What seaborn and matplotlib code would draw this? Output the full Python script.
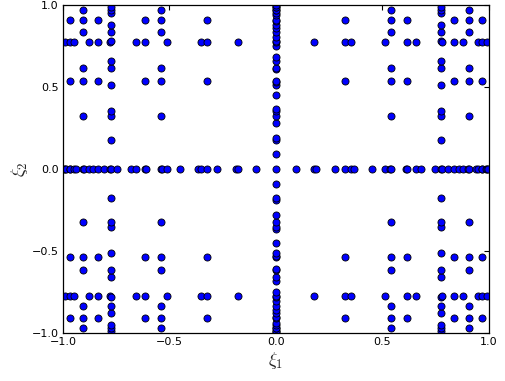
import itertools
import numpy as np
import pandas as pd
import matplotlib
matplotlib.use("Agg")
import matplotlib.pyplot as plt
import seaborn as sns

# 1D node sets (levels 0..5, sizes 1,3,5,9,17,33)
nodes_level0 = [0.0]
nodes_level1 = [-0.774597, 0.0, 0.774597]
nodes_level2 = [-0.906180, -0.538469, 0.0, 0.538469, 0.906180]
nodes_level3 = [-0.968160, -0.836031, -0.613371, -0.324253, 0.0,
                0.324253, 0.613371, 0.836031, 0.968160]
nodes_level4 = [-0.990575, -0.950676, -0.880239, -0.781514, -0.657671,
                -0.512691, -0.351232, -0.178484, 0.0,
                0.178484, 0.351232, 0.512691, 0.657671, 0.781514,
                0.880239, 0.950676, 0.990575]
nodes_level5 = [-0.997417, -0.986453, -0.966822, -0.938694, -0.902317,
                -0.858009, -0.806162, -0.747230, -0.681732, -0.610243,
                -0.533390, -0.451850, -0.366339, -0.277609, -0.186438,
                -0.093630, 0.0,
                0.093630, 0.186438, 0.277609, 0.366339, 0.451850,
                0.533390, 0.610243, 0.681732, 0.747230, 0.806162,
                0.858009, 0.902317, 0.938694, 0.966822, 0.986453,
                0.997417]
node_sets = [nodes_level0, nodes_level1, nodes_level2,
             nodes_level3, nodes_level4, nodes_level5]

# tensor grids (level in xi_1, level in xi_2) that make up the sparse grid
grid_levels = [(0, 4), (1, 3), (2, 2), (3, 1), (4, 0),
               (0, 5), (1, 4), (2, 3), (3, 2), (4, 1), (5, 0)]

tick_values = [-1.0, -0.5, 0.0, 0.5, 1.0]
tick_labels = ["\u22121.0", "\u22120.5", "0.0", "0.5", "1.0"]

pts = set()
for lx, ly in grid_levels:
    for a, b in itertools.product(node_sets[lx], node_sets[ly]):
        pts.add((round(a, 6), round(b, 6)))
df = pd.DataFrame(sorted(pts), columns=["xi1", "xi2"])

sns.set_style("white")
plt.rcParams["font.family"] = ["DejaVu Sans"]
plt.rcParams["mathtext.fontset"] = "cm"

fig = plt.figure(figsize=(5.06, 3.81), dpi=100)
ax = fig.add_axes([63 / 506, 1 - 333 / 381, 426 / 506, 328 / 381])
sns.scatterplot(data=df, x="xi1", y="xi2", ax=ax, color=(0, 0, 1),
                edgecolor="black", linewidth=0.6, s=26, clip_on=True,
                legend=False)
ax.set_xlim(-1, 1)
ax.set_ylim(-1, 1)
ax.set_xticks(tick_values)
ax.set_xticklabels(tick_labels)
ax.set_yticks(tick_values)
ax.set_yticklabels(tick_labels)
ax.tick_params(direction="in", top=True, right=True, length=3.5,
               width=0.8, labelsize=8, colors="black", pad=3)
for s in ax.spines.values():
    s.set_color("black")
    s.set_linewidth(0.9)
ax.set_xlabel(r"$\xi_1$", fontsize=13, labelpad=2)
ax.set_ylabel(r"$\xi_2$", fontsize=13, labelpad=1)
fig.savefig("out.png", dpi=100)
